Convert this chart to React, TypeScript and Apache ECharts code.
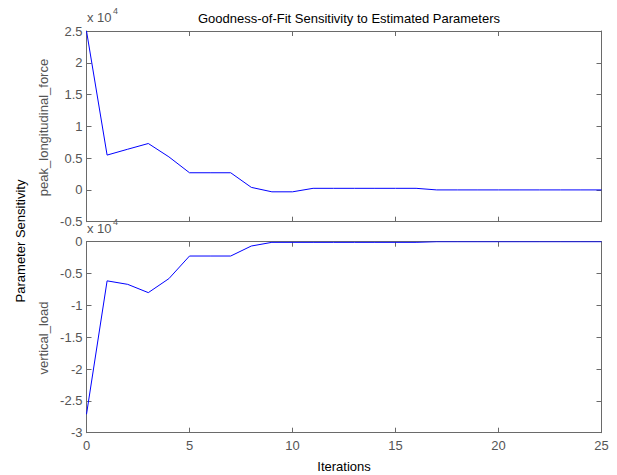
import React, { useEffect, useRef } from "react";
import * as echarts from "echarts";

const iterations = Array.from({ length: 26 }, (_, i) => i);
const peakLongitudinalForce = [
  25000, 5480, 6400, 7300, 5200, 2700, 2700, 2700, 400, -300, -300, 250, 250,
  250, 250, 250, 250, 0, 0, 0, 0, 0, 0, 0, 0, 0,
];
const verticalLoad = [
  -27100, -6150, -6700, -8000, -5800, -2250, -2250, -2250, -680, -100, -100,
  -100, -100, -100, -100, -100, -100, 0, 0, 0, 0, 0, 0, 0, 0, 0,
];
const xTicks = [0, 5, 10, 15, 20, 25];

const FONT = "'Liberation Sans', Arial, Helvetica, sans-serif";
const AXIS_COLOR = "#6a6a6a";
const LABEL_COLOR = "#555555";
const FS = 13;

export default function App() {
  const ref = useRef<HTMLDivElement>(null);
  useEffect(() => {
    if (!ref.current) return;
    const chart = echarts.init(ref.current, null, { renderer: "svg" });
    const L = 86.5;
    const W = 515;
    const grids = [
      { left: L, top: 31, width: W, height: 190.7 },
      { left: L, top: 241.7, width: W, height: 191 },
    ];
    const axisLine = { show: true, onZero: false, lineStyle: { color: AXIS_COLOR, width: 1 } };
    const axisTick = { show: true, inside: true, length: 5, lineStyle: { color: AXIS_COLOR } };
    const fmt = (v: number) => {
      const s = v / 10000;
      return String(Math.round(s * 10) / 10);
    };
    const xAxisBase = (gridIndex: number, position: string, showLabel: boolean) => ({
      type: "value",
      gridIndex,
      position,
      min: 0,
      max: 25,
      interval: 5,
      axisLine,
      axisTick,
      splitLine: { show: false },
      axisLabel: {
        show: showLabel,
        color: LABEL_COLOR,
        fontSize: FS,
        fontFamily: FONT,
        margin: 6,
        formatter: (v: number) => (xTicks.includes(v) ? String(v) : ""),
      },
    });
    const yAxisBase = (gridIndex: number, position: string, showLabel: boolean, min: number, max: number) => ({
      type: "value",
      gridIndex,
      position,
      min,
      max,
      interval: 5000,
      axisLine,
      axisTick,
      splitLine: { show: false },
      axisLabel: {
        show: showLabel,
        color: LABEL_COLOR,
        fontSize: FS,
        fontFamily: FONT,
        margin: 4,
        formatter: fmt,
      },
    });
    chart.setOption({
      animation: false,
      backgroundColor: "#ffffff",
      title: {
        text: "Goodness-of-Fit Sensitivity to Estimated Parameters",
        left: 344,
        textAlign: "center",
        top: 7,
        textStyle: { fontSize: FS, fontWeight: "normal", color: "#000", fontFamily: FONT },
      },
      grid: grids,
      xAxis: [
        xAxisBase(0, "bottom", false),
        xAxisBase(0, "top", false),
        xAxisBase(1, "bottom", true),
        xAxisBase(1, "top", false),
      ],
      yAxis: [
        yAxisBase(0, "left", true, -5000, 25000),
        yAxisBase(0, "right", false, -5000, 25000),
        yAxisBase(1, "left", true, -30000, 0),
        yAxisBase(1, "right", false, -30000, 0),
      ],
      series: [
        {
          type: "line",
          xAxisIndex: 0,
          yAxisIndex: 0,
          data: iterations.map((x, i) => [x, peakLongitudinalForce[i]]),
          showSymbol: false,
          lineStyle: { color: "#0000ff", width: 1 },
          clip: true,
        },
        {
          type: "line",
          xAxisIndex: 2,
          yAxisIndex: 2,
          data: iterations.map((x, i) => [x, verticalLoad[i]]),
          showSymbol: false,
          lineStyle: { color: "#0000ff", width: 1 },
          clip: true,
        },
      ],
      graphic: [
        {
          type: "text",
          x: 87,
          y: 17.5,
          style: { text: "x 10", fontSize: FS, fontFamily: FONT, fill: LABEL_COLOR, align: "left", verticalAlign: "middle" },
        },
        {
          type: "text",
          x: 113,
          y: 11,
          style: { text: "4", fontSize: 9, fontFamily: FONT, fill: LABEL_COLOR, align: "left", verticalAlign: "middle" },
        },
        {
          type: "text",
          x: 87,
          y: 228.5,
          style: { text: "x 10", fontSize: FS, fontFamily: FONT, fill: LABEL_COLOR, align: "left", verticalAlign: "middle" },
        },
        {
          type: "text",
          x: 113,
          y: 222,
          style: { text: "4", fontSize: 9, fontFamily: FONT, fill: LABEL_COLOR, align: "left", verticalAlign: "middle" },
        },
        {
          type: "text",
          x: 43,
          y: 127.5,
          rotation: Math.PI / 2,
          style: { text: "peak_longitudinal_force", fontSize: FS, fontFamily: FONT, fill: LABEL_COLOR, align: "center", verticalAlign: "middle" },
        },
        {
          type: "text",
          x: 43,
          y: 338,
          rotation: Math.PI / 2,
          style: { text: "vertical_load", fontSize: FS, fontFamily: FONT, fill: LABEL_COLOR, align: "center", verticalAlign: "middle" },
        },
        {
          type: "text",
          x: 20,
          y: 241,
          rotation: Math.PI / 2,
          style: { text: "Parameter Sensitivity", fontSize: FS, fontFamily: FONT, fill: "#000", align: "center", verticalAlign: "middle" },
        },
        {
          type: "text",
          x: 344,
          y: 466,
          style: { text: "Iterations", fontSize: FS, fontFamily: FONT, fill: "#000", align: "center", verticalAlign: "middle" },
        },
      ],
    });
    return () => chart.dispose();
  }, []);
  return (
    <div
      ref={ref}
      style={{ position: "fixed", left: 0, top: 0, width: 617, height: 475, background: "#fff" }}
    />
  );
}
